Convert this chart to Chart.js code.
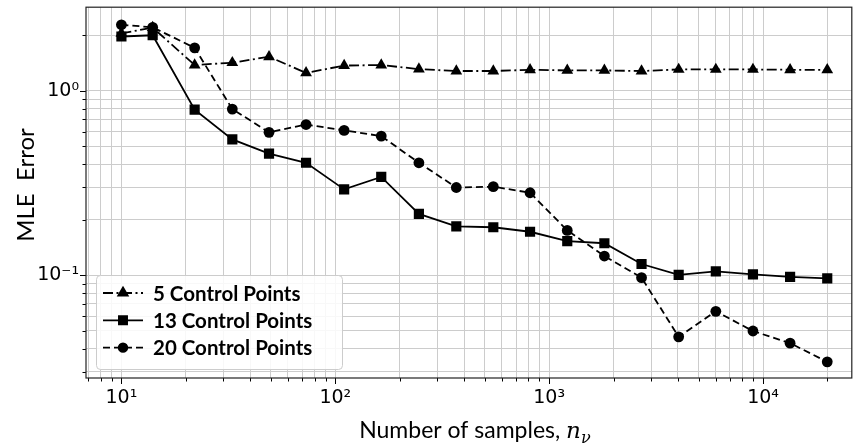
<!DOCTYPE html>
<html>
<head>
<meta charset="utf-8">
<script src="https://cdn.jsdelivr.net/npm/chart.js@4.4.1/dist/chart.umd.min.js"></script>
<style>
  html, body { margin: 0; padding: 0; background: #fff; }
  #wrap { width: 859px; height: 445px; }
</style>
</head>
<body>
<div id="wrap"><canvas id="myChart"></canvas></div>
<script>
// number of samples (x) and MLE error for each control point count
const samples = [10, 14, 22, 33, 49, 73, 110, 164, 246, 368, 548, 814, 1215, 1812, 2703, 4032, 6015, 8970, 13380, 19960];
const err5  = [2.05, 2.2, 1.38, 1.42, 1.53, 1.25, 1.37, 1.38, 1.31, 1.28, 1.28, 1.30, 1.29, 1.29, 1.28, 1.305, 1.305, 1.305, 1.30, 1.30];
const err13 = [1.97, 2.0, 0.79, 0.545, 0.456, 0.407, 0.292, 0.341, 0.215, 0.184, 0.182, 0.172, 0.153, 0.149, 0.115, 0.1005, 0.105, 0.101, 0.098, 0.096];
const err20 = [2.28, 2.21, 1.71, 0.796, 0.595, 0.656, 0.61, 0.568, 0.407, 0.299, 0.302, 0.28, 0.175, 0.127, 0.097, 0.0463, 0.0637, 0.0498, 0.0428, 0.0339];
const seriesLabels = ['5 Control Points', '13 Control Points', '20 Control Points'];

// axis ranges and labelled (major) ticks
const xRange = [6.83, 26000];
const yRange = [0.0277, 2.84];
const xMajor = [10, 100, 1000, 10000];
const xMajorLabels = ['10¹', '10²', '10³', '10⁴'];
const yMajor = [0.1, 1];
const yMajorLabels = ['10⁻¹', '10⁰'];

const ctx = document.getElementById('myChart').getContext('2d');

// 1..9 x 10^n inside the range, like matplotlib's minor + major locators
function logTicks(min, max) {
    const out = [];
    for (let e = Math.floor(Math.log10(min)); e <= Math.ceil(Math.log10(max)); e++) {
        for (let m = 1; m < 10; m++) {
            const v = +(m * Math.pow(10, e)).toPrecision(6);
            if (v > min && v < max) out.push({ value: v });
        }
    }
    return out;
}

function isMajor(v, majors) {
    return majors.some(m => Math.abs(v / m - 1) < 1e-6);
}

function labelFor(v, majors, labels) {
    const i = majors.findIndex(m => Math.abs(v / m - 1) < 1e-6);
    return i >= 0 ? labels[i] : '';
}

// frame, tick marks, axis titles, legend
const decorPlugin = {
    id: 'decor',
    afterDraw(chart) {
        const c = chart.ctx;
        const a = chart.chartArea;
        const xs = chart.scales.x, ys = chart.scales.y;
        c.save();

        // tick marks
        c.strokeStyle = '#000';
        c.lineWidth = 1;
        xs.ticks.forEach(t => {
            const px = Math.round(xs.getPixelForValue(t.value)) + 0.5;
            const len = isMajor(t.value, xMajor) ? 6 : 3.5;
            c.beginPath(); c.moveTo(px, a.bottom); c.lineTo(px, a.bottom + len); c.stroke();
        });
        ys.ticks.forEach(t => {
            const py = Math.round(ys.getPixelForValue(t.value)) + 0.5;
            const len = isMajor(t.value, yMajor) ? 6 : 3.5;
            c.beginPath(); c.moveTo(a.left, py); c.lineTo(a.left - len, py); c.stroke();
        });

        // frame
        c.strokeStyle = '#222';
        c.lineWidth = 1.2;
        c.strokeRect(a.left, a.top, a.right - a.left, a.bottom - a.top);

        // x title with math part
        c.fillStyle = '#000';
        c.textBaseline = 'alphabetic';
        const plain = 'Number of samples, ';
        const fPlain = '23px Lato';
        const fN = 'italic 23px "DejaVu Serif"';
        const fSub = 'italic 16px "DejaVu Serif"';
        c.font = fPlain; const w1 = c.measureText(plain).width;
        c.font = fN; const w2 = c.measureText('n').width;
        c.font = fSub; const w3 = c.measureText('ν').width;
        let x0 = (a.left + a.right) / 2 - (w1 + w2 + w3) / 2 + 6;
        const base = 438;
        c.font = fPlain; c.fillText(plain, x0, base);
        c.font = fN; c.fillText('n', x0 + w1, base);
        c.font = fSub; c.fillText('ν', x0 + w1 + w2, base + 5);

        // y title
        c.save();
        c.translate(34, 185);
        c.rotate(-Math.PI / 2);
        c.font = '24px Lato';
        c.textAlign = 'center';
        c.fillText('MLE  Error', 0, 0);
        c.restore();

        // legend
        const lx = a.left + 10, ly = 275, lw = 246, lh = 94;
        c.fillStyle = 'rgba(255,255,255,0.85)';
        c.strokeStyle = '#cccccc';
        c.lineWidth = 1;
        c.beginPath();
        c.roundRect(lx + 0.5, ly + 0.5, lw, lh, 4);
        c.fill(); c.stroke();
        chart.data.datasets.forEach((ds, i) => {
            const ry = 293 + i * 27.3;
            c.strokeStyle = '#000';
            c.lineWidth = ds.borderWidth;
            c.setLineDash(ds.borderDash || []);
            c.beginPath(); c.moveTo(lx + 7, ry); c.lineTo(lx + 47, ry); c.stroke();
            c.setLineDash([]);
            Chart.helpers.drawPoint(c, { pointStyle: ds.pointStyle, radius: ds.pointRadius * 0.8, rotation: 0, borderWidth: 1 }, lx + 27, ry);
            c.fillStyle = '#000';
            c.fill();
            c.font = 'bold 20.5px Lato';
            c.textBaseline = 'middle';
            c.textAlign = 'left';
            c.fillText(ds.label, lx + 57, ry + 1);
        });
        c.restore();
    }
};

function lineSet(label, data, style, radius, dash, order) {
    return {
        label: label,
        data: samples.map((s, i) => ({ x: s, y: data[i] })),
        borderColor: '#000',
        backgroundColor: '#000',
        borderWidth: 1.8,
        borderDash: dash,
        pointStyle: style,
        pointRadius: radius,
        pointHoverRadius: radius,
        pointBorderWidth: 0,
        tension: 0,
        order: order
    };
}

new Chart(ctx, {
    type: 'line',
    data: {
        datasets: [
            lineSet(seriesLabels[0], err5, 'triangle', 6.8, [10, 3.5, 2, 3.5], 3),
            lineSet(seriesLabels[1], err13, 'rect', 7.2, [], 2),
            lineSet(seriesLabels[2], err20, 'circle', 5.4, [7, 4], 1)
        ]
    },
    options: {
        responsive: true,
        maintainAspectRatio: false,
        animation: false,
        devicePixelRatio: 1,
        layout: { padding: { top: 4, right: 0, left: 0, bottom: 0 } },
        plugins: { legend: { display: false }, tooltip: { enabled: false } },
        scales: {
            x: {
                type: 'logarithmic',
                min: xRange[0],
                max: xRange[1],
                afterBuildTicks: s => { s.ticks = logTicks(xRange[0], xRange[1]); },
                afterFit: s => { s.height = 67; s.paddingLeft = 0; s.paddingRight = 0; },
                grid: { color: '#cccccc', lineWidth: 1, drawTicks: false },
                border: { display: false },
                ticks: {
                    autoSkip: false,
                    maxRotation: 0,
                    padding: 9,
                    color: '#000',
                    font: { family: 'DejaVu Sans', size: 19 },
                    callback: v => labelFor(v, xMajor, xMajorLabels)
                }
            },
            y: {
                type: 'logarithmic',
                min: yRange[0],
                max: yRange[1],
                afterBuildTicks: s => { s.ticks = logTicks(yRange[0], yRange[1]); },
                afterFit: s => { s.width = 86; s.paddingTop = 0; s.paddingBottom = 0; },
                grid: { color: '#cccccc', lineWidth: 1, drawTicks: false },
                border: { display: false },
                ticks: {
                    autoSkip: false,
                    padding: 7,
                    color: '#000',
                    font: { family: 'DejaVu Sans', size: 19 },
                    callback: v => labelFor(v, yMajor, yMajorLabels)
                }
            }
        }
    },
    plugins: [decorPlugin]
});
</script>
</body>
</html>
